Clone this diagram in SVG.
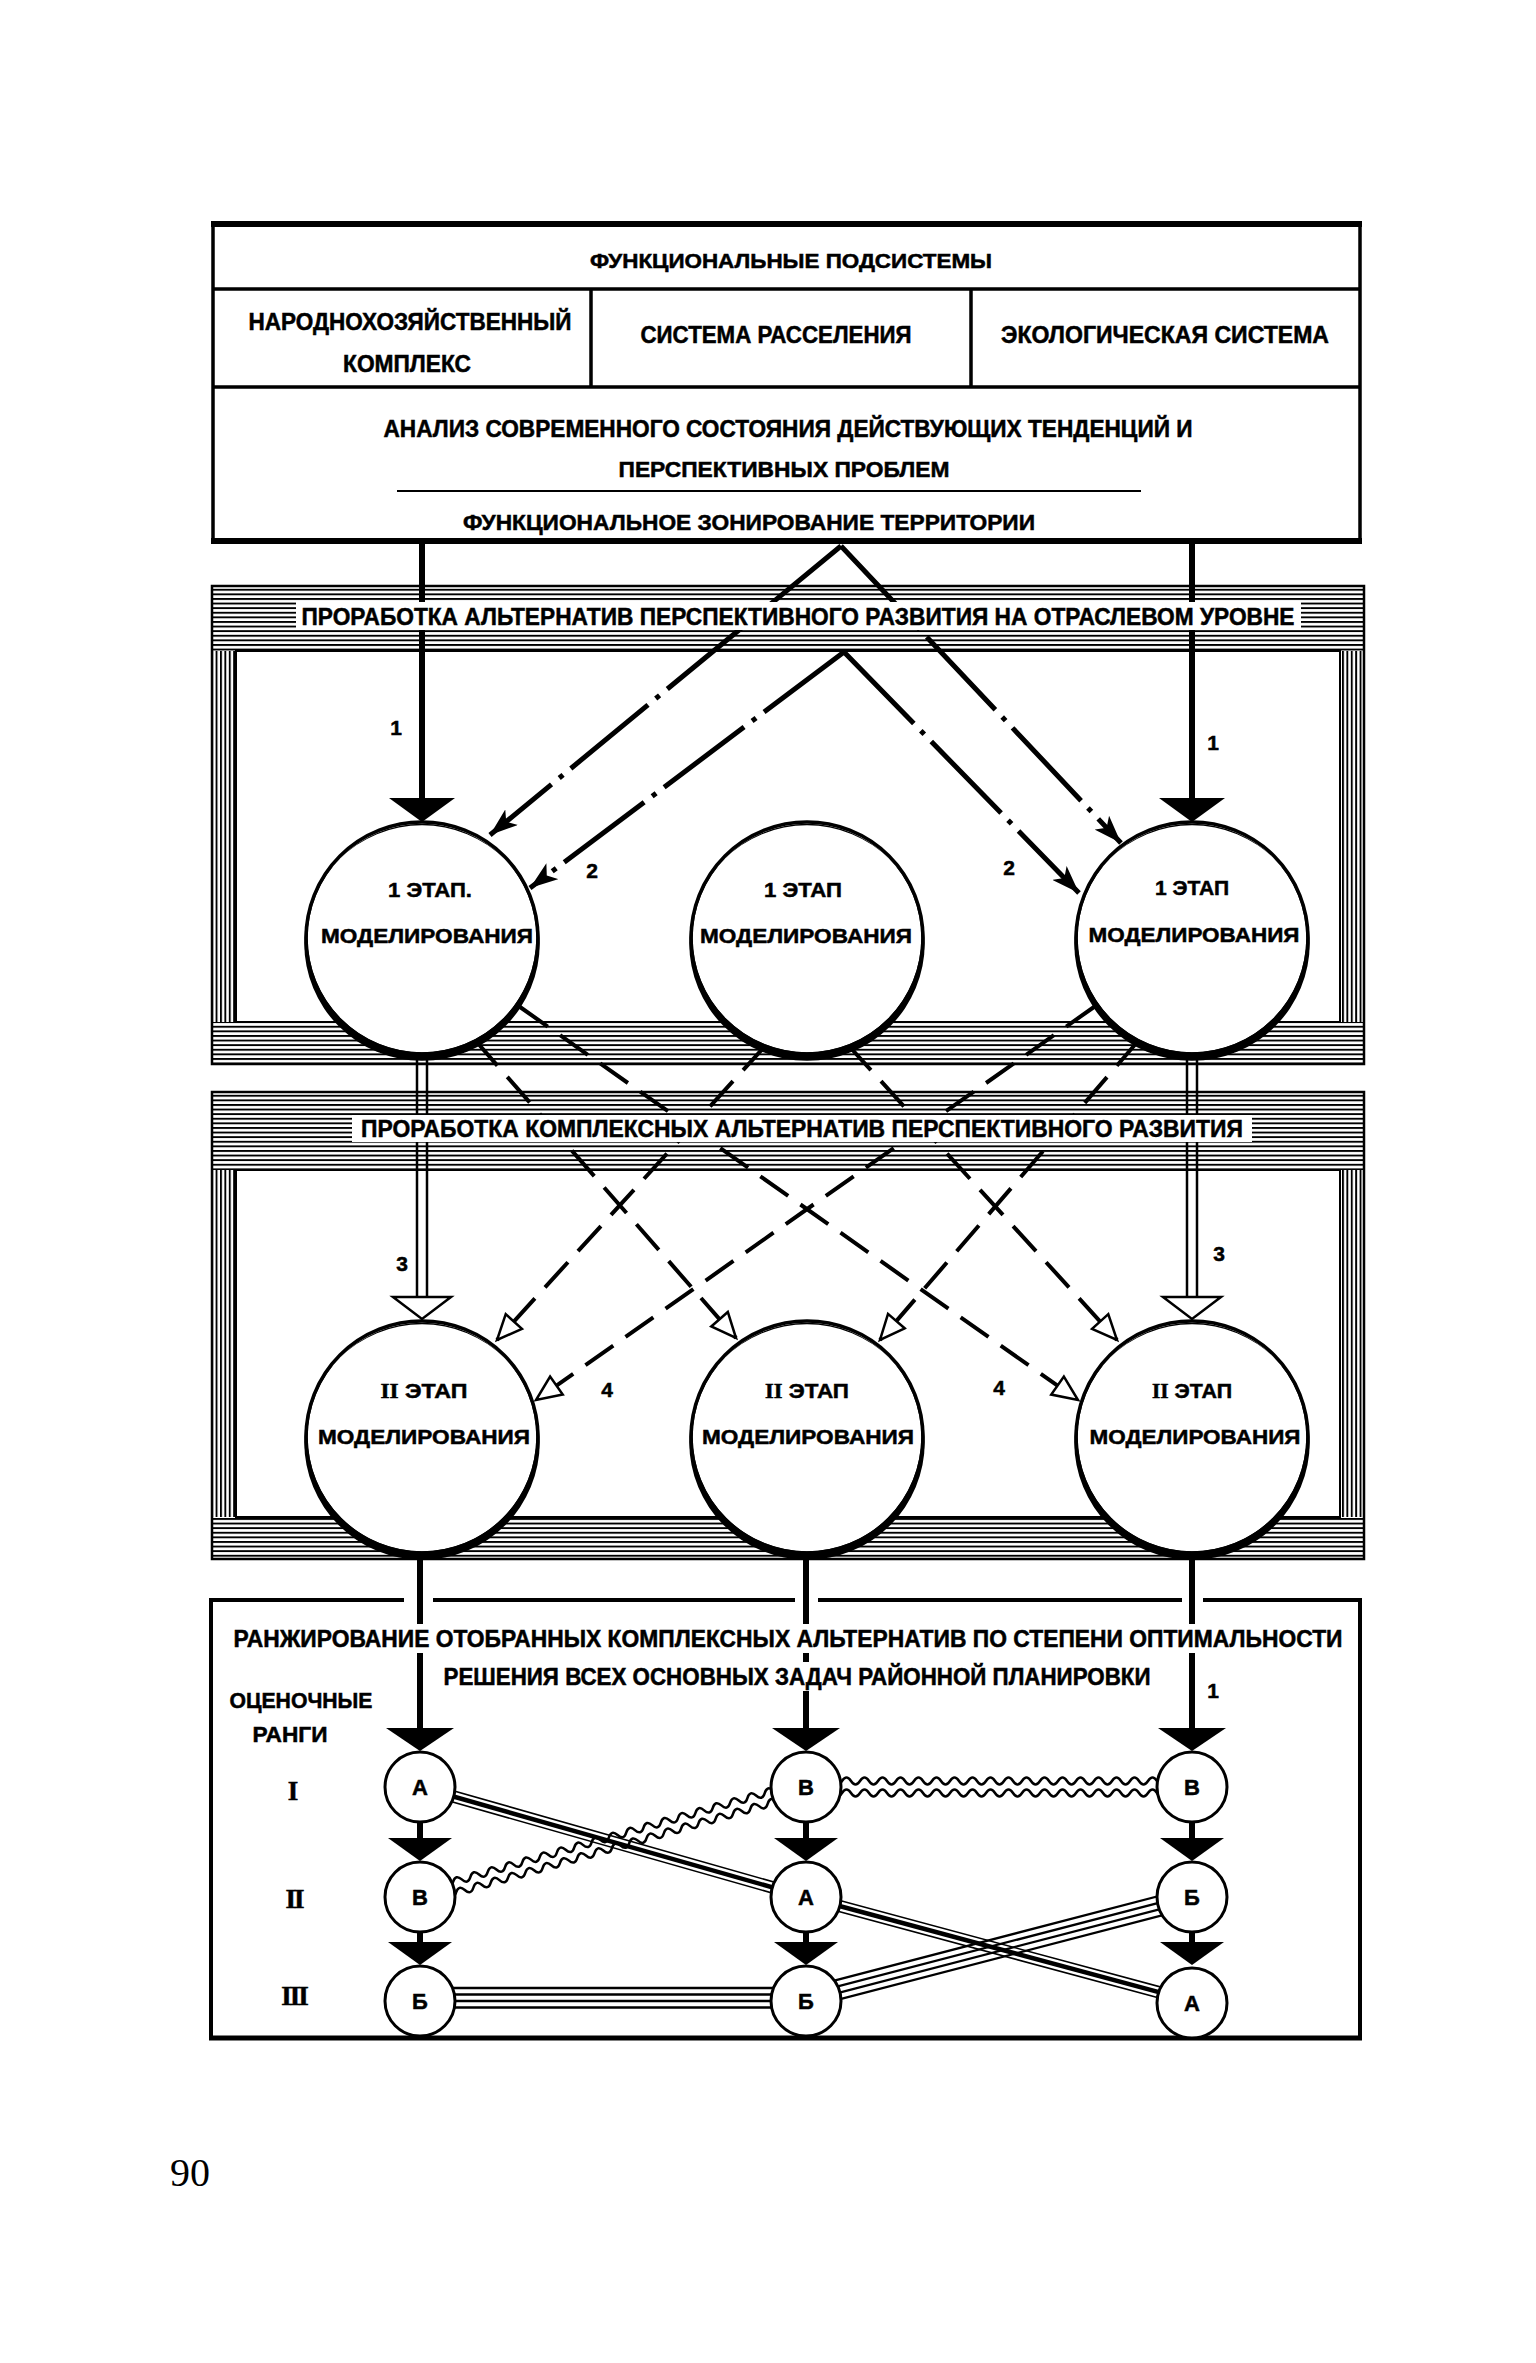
<svg xmlns="http://www.w3.org/2000/svg" width="1536" height="2363" viewBox="0 0 1536 2363">
<defs>
<style>
.t{font-family:"Liberation Sans","DejaVu Sans",Arial,sans-serif;font-weight:bold;fill:#000;stroke:#000;stroke-width:0.5;text-anchor:middle}
.rom{font-family:"Liberation Serif","DejaVu Serif",serif;font-weight:bold}
.big{fill:#fff;stroke:#000;stroke-width:3.5}
.sm{fill:#fff;stroke:#000;stroke-width:3}
.thick{stroke:#000;stroke-width:6;fill:none}
.dd{stroke:#000;stroke-width:5;fill:none;stroke-dasharray:100 10 5 10}
.dsh{stroke:#000;stroke-width:4;fill:none;stroke-dasharray:34 15}
.dbl{stroke:#000;stroke-width:2.5;fill:none}
.bg{fill:#fff}
.ln{stroke:#000;fill:none}
.wv{stroke:#000;stroke-width:2.5;fill:none}
</style>
<pattern id="hp" patternUnits="userSpaceOnUse" width="20" height="4.6"><rect width="20" height="1.9" fill="#000"/></pattern>
<pattern id="vp" patternUnits="userSpaceOnUse" width="4.4" height="20"><rect width="1.9" height="20" fill="#000"/></pattern>
<marker id="barb" markerUnits="userSpaceOnUse" viewBox="0 0 28 20" markerWidth="28" markerHeight="20" refX="28" refY="10" orient="auto"><path d="M0,0 L28,10 L0,20 L7,10 Z" fill="#000"/></marker>
<marker id="hollow" markerUnits="userSpaceOnUse" viewBox="-3 -3 32 28" markerWidth="32" markerHeight="28" refX="25" refY="11" orient="auto"><path d="M0,0 L25,11 L0,22 Z" fill="#fff" stroke="#000" stroke-width="2.5"/></marker>
<path id="cres" fill="#000" fill-rule="evenodd" d="M-117.75,5 a117.75,117.75 0 1 0 235.5,0 a117.75,117.75 0 1 0 -235.5,0 Z M-114.25,0 a114.25,114.25 0 1 0 228.5,0 a114.25,114.25 0 1 0 -228.5,0 Z"/>
<path id="wave" d="M0,0 q4.5,-7 9,0 t9,0 t9,0 t9,0 t9,0 t9,0 t9,0 t9,0 t9,0 t9,0 t9,0 t9,0 t9,0 t9,0 t9,0 t9,0 t9,0 t9,0 t9,0 t9,0 t9,0 t9,0 t9,0 t9,0 t9,0 t9,0 t9,0 t9,0 t9,0 t9,0 t9,0 t9,0 t9,0 t9,0 t9,0 t9,0 t9,0 t9,0 t9,0 t9,0 t9,0 t9,0 t9,0 t9,0 t9,0"/>
</defs>
<rect width="1536" height="2363" fill="#fff"/>

<!-- top box -->
<g id="top-box">
<rect x="213" y="224" width="1147" height="318" fill="#fff" stroke="#000" stroke-width="3.5"/>
<path class="ln" stroke-width="6" d="M211,224 H1362 M211,541 H1362"/>
<path class="ln" stroke-width="3.5" d="M213,289 H1360 M213,387 H1360 M591,289 V387 M971,289 V387"/>
<path class="ln" stroke-width="2" d="M397,491 H1141"/>
<text class="t" x="791" y="268" font-size="20" textLength="402" lengthAdjust="spacingAndGlyphs">ФУНКЦИОНАЛЬНЫЕ ПОДСИСТЕМЫ</text>
<text class="t" x="410" y="330" font-size="23" textLength="323" lengthAdjust="spacingAndGlyphs">НАРОДНОХОЗЯЙСТВЕННЫЙ</text>
<text class="t" x="407" y="372" font-size="23" textLength="128" lengthAdjust="spacingAndGlyphs">КОМПЛЕКС</text>
<text class="t" x="776" y="343" font-size="23" textLength="271" lengthAdjust="spacingAndGlyphs">СИСТЕМА РАССЕЛЕНИЯ</text>
<text class="t" x="1165" y="343" font-size="23" textLength="328" lengthAdjust="spacingAndGlyphs">ЭКОЛОГИЧЕСКАЯ СИСТЕМА</text>
<text class="t" x="788" y="437" font-size="23" textLength="809" lengthAdjust="spacingAndGlyphs">АНАЛИЗ СОВРЕМЕННОГО СОСТОЯНИЯ ДЕЙСТВУЮЩИХ ТЕНДЕНЦИЙ И</text>
<text class="t" x="784" y="477" font-size="22" textLength="331" lengthAdjust="spacingAndGlyphs">ПЕРСПЕКТИВНЫХ ПРОБЛЕМ</text>
<text class="t" x="749" y="530" font-size="22" textLength="572" lengthAdjust="spacingAndGlyphs">ФУНКЦИОНАЛЬНОЕ ЗОНИРОВАНИЕ ТЕРРИТОРИИ</text>
</g>

<!-- frame 1 -->
<g id="frame1">
<rect x="211" y="585" width="1154" height="66" fill="url(#hp)"/>
<rect x="211" y="651" width="25" height="371" fill="url(#vp)"/>
<rect x="1340" y="651" width="25" height="371" fill="url(#vp)"/>
<rect x="211" y="1022" width="1154" height="43" fill="url(#hp)"/>
<rect x="212" y="586" width="1152" height="478" fill="none" stroke="#000" stroke-width="2.5"/>
<path d="M236,1022 V651 H1340 V1022 Z" fill="none" stroke="#000" stroke-width="2"/>
</g>

<!-- frame 2 -->
<g id="frame2">
<rect x="211" y="1091" width="1154" height="79" fill="url(#hp)"/>
<rect x="211" y="1170" width="25" height="347" fill="url(#vp)"/>
<rect x="1340" y="1170" width="25" height="347" fill="url(#vp)"/>
<rect x="211" y="1517" width="1154" height="43" fill="url(#hp)"/>
<rect x="212" y="1092" width="1152" height="467" fill="none" stroke="#000" stroke-width="2.5"/>
<path d="M236,1517 V1170 H1340 V1517 Z" fill="none" stroke="#000" stroke-width="2"/>
</g>

<!-- bottom box -->
<g id="bottom-box">
<path class="ln" stroke-width="4" d="M211,1600 H404 M433,1600 H795 M818,1600 H1182 M1203,1600 H1360 M211,1598 V2038 M1360,1598 V2038"/>
<path class="ln" stroke-width="5" d="M209,2038 H1362"/>
</g>

<!-- connectors -->
<g id="connectors">
<path class="thick" d="M422,544 V800 M1192,544 V800"/>
<polygon points="389,798 455,798 422,822" fill="#000"/>
<polygon points="1159,798 1225,798 1192,822" fill="#000"/>
<path class="dd" d="M841,546 L490,835" marker-end="url(#barb)"/>
<path class="dd" d="M844,652 L530,888" marker-end="url(#barb)"/>
<path class="dd" d="M841,546 L1121,843" marker-end="url(#barb)"/>
<path class="dd" d="M844,652 L1079,893" marker-end="url(#barb)"/>
<path class="dbl" d="M417,1054 V1298 M427,1054 V1298 M1187,1054 V1298 M1197,1054 V1298"/>
<polygon points="393,1297 451,1297 422,1319" fill="#fff" stroke="#000" stroke-width="2.5"/>
<polygon points="1163,1297 1221,1297 1192,1319" fill="#fff" stroke="#000" stroke-width="2.5"/>
<path class="dsh" d="M475,1040 L736,1338" marker-end="url(#hollow)"/>
<path class="dsh" d="M520,1007 L1078,1400" marker-end="url(#hollow)"/>
<path class="dsh" d="M766,1045 L497,1340" marker-end="url(#hollow)"/>
<path class="dsh" d="M848,1045 L1117,1340" marker-end="url(#hollow)"/>
<path class="dsh" d="M1094,1007 L536,1400" marker-end="url(#hollow)"/>
<path class="dsh" d="M1139,1040 L880,1340" marker-end="url(#hollow)"/>
<path class="thick" d="M420,1553 V1730 M806,1553 V1730 M1192,1553 V1730"/>
<polygon points="386,1728 454,1728 420,1751" fill="#000"/>
<polygon points="772,1728 840,1728 806,1751" fill="#000"/>
<polygon points="1158,1728 1226,1728 1192,1751" fill="#000"/>
<path class="thick" d="M420,1820 V1840 M806,1820 V1840 M1192,1820 V1840 M420,1930 V1944 M806,1930 V1944 M1192,1930 V1944"/>
<polygon points="388,1838 452,1838 420,1861" fill="#000"/>
<polygon points="774,1838 838,1838 806,1861" fill="#000"/>
<polygon points="1160,1838 1224,1838 1192,1861" fill="#000"/>
<polygon points="388,1942 452,1942 420,1965" fill="#000"/>
<polygon points="774,1942 838,1942 806,1965" fill="#000"/>
<polygon points="1160,1942 1224,1942 1192,1965" fill="#000"/>
<g transform="translate(420,1787) rotate(15.9)">
<path class="ln" stroke-width="1.6" d="M0,-5.5 H401 M0,5.5 H401"/>
<path class="ln" stroke-width="4.5" d="M0,0 H401"/>
</g>
<g transform="translate(806,1897) rotate(15.1)">
<path class="ln" stroke-width="1.6" d="M0,-5.5 H400 M0,5.5 H400"/>
<path class="ln" stroke-width="4.5" d="M0,0 H400"/>
</g>
<use href="#wave" class="wv" transform="translate(420,1897) rotate(-15.9) translate(0,-5.5)"/>
<use href="#wave" class="wv" transform="translate(420,1897) rotate(-15.9) translate(0,5.5)"/>
<use href="#wave" class="wv" transform="translate(806,1781)"/>
<use href="#wave" class="wv" transform="translate(806,1793)"/>
<path class="ln" stroke-width="2.3" d="M420,1988 H806 M420,1994.5 H806 M420,2001 H806 M420,2007.5 H806"/>
<g transform="translate(806,1998) rotate(-14.6)">
<path class="ln" stroke-width="2.3" d="M0,-9.75 H398 M0,-3.25 H398 M0,3.25 H398 M0,9.75 H398"/>
</g>
</g>

<!-- band labels -->
<g id="band1-label">
<rect class="bg" x="296" y="602" width="1005" height="28"/>
<text class="t" x="798" y="625" font-size="24" textLength="993" lengthAdjust="spacingAndGlyphs">ПРОРАБОТКА АЛЬТЕРНАТИВ ПЕРСПЕКТИВНОГО РАЗВИТИЯ НА ОТРАСЛЕВОМ УРОВНЕ</text>
</g>
<g id="band2-label">
<rect class="bg" x="352" y="1115" width="900" height="27"/>
<text class="t" x="802" y="1137" font-size="24" textLength="882" lengthAdjust="spacingAndGlyphs">ПРОРАБОТКА КОМПЛЕКСНЫХ АЛЬТЕРНАТИВ ПЕРСПЕКТИВНОГО РАЗВИТИЯ</text>
</g>
<g id="ranking-label">
<rect class="bg" x="230" y="1624" width="1118" height="29"/>
<rect class="bg" x="438" y="1662" width="720" height="29"/>
<text class="t" x="788" y="1647" font-size="23" textLength="1109" lengthAdjust="spacingAndGlyphs">РАНЖИРОВАНИЕ ОТОБРАННЫХ КОМПЛЕКСНЫХ АЛЬТЕРНАТИВ ПО СТЕПЕНИ ОПТИМАЛЬНОСТИ</text>
<text class="t" x="797" y="1685" font-size="23" textLength="707" lengthAdjust="spacingAndGlyphs">РЕШЕНИЯ ВСЕХ ОСНОВНЫХ ЗАДАЧ РАЙОННОЙ ПЛАНИРОВКИ</text>
<text class="t" x="301" y="1708" font-size="22" textLength="143" lengthAdjust="spacingAndGlyphs">ОЦЕНОЧНЫЕ</text>
<text class="t" x="290" y="1742" font-size="22" textLength="75" lengthAdjust="spacingAndGlyphs">РАНГИ</text>
<text class="t rom" x="293" y="1800" font-size="27">I</text>
<text class="t rom" x="294" y="1908" font-size="27" letter-spacing="-2">II</text>
<text class="t rom" x="294" y="2005" font-size="27" letter-spacing="-2">III</text>
</g>

<!-- connector labels -->
<g id="labels" font-size="21">
<text class="t" x="396" y="735">1</text>
<text class="t" x="1213" y="750">1</text>
<text class="t" x="592" y="878">2</text>
<text class="t" x="1009" y="875">2</text>
<text class="t" x="402" y="1271">3</text>
<text class="t" x="1219" y="1261">3</text>
<text class="t" x="607" y="1397">4</text>
<text class="t" x="999" y="1395">4</text>
<text class="t" x="1213" y="1698">1</text>
</g>

<!-- stage I nodes -->
<g id="stage1-left">
<circle class="big" cx="422" cy="938" r="116"/>
<use href="#cres" x="422" y="938"/>
<text class="t" x="430" y="897" font-size="21" textLength="84" lengthAdjust="spacingAndGlyphs">1 ЭТАП.</text>
<text class="t" x="427" y="943" font-size="21" textLength="212" lengthAdjust="spacingAndGlyphs">МОДЕЛИРОВАНИЯ</text>
</g>
<g id="stage1-middle">
<circle class="big" cx="807" cy="938" r="116"/>
<use href="#cres" x="807" y="938"/>
<text class="t" x="803" y="897" font-size="21" textLength="78" lengthAdjust="spacingAndGlyphs">1 ЭТАП</text>
<text class="t" x="806" y="943" font-size="21" textLength="212" lengthAdjust="spacingAndGlyphs">МОДЕЛИРОВАНИЯ</text>
</g>
<g id="stage1-right">
<circle class="big" cx="1192" cy="938" r="116"/>
<use href="#cres" x="1192" y="938"/>
<text class="t" x="1192" y="895" font-size="21" textLength="74" lengthAdjust="spacingAndGlyphs">1 ЭТАП</text>
<text class="t" x="1194" y="942" font-size="21" textLength="211" lengthAdjust="spacingAndGlyphs">МОДЕЛИРОВАНИЯ</text>
</g>

<!-- stage II nodes -->
<g id="stage2-left">
<circle class="big" cx="422" cy="1437" r="116"/>
<use href="#cres" x="422" y="1437"/>
<text class="t" x="424" y="1398" font-size="21" textLength="87" lengthAdjust="spacingAndGlyphs"><tspan class="rom">II</tspan> ЭТАП</text>
<text class="t" x="424" y="1444" font-size="21" textLength="212" lengthAdjust="spacingAndGlyphs">МОДЕЛИРОВАНИЯ</text>
</g>
<g id="stage2-middle">
<circle class="big" cx="807" cy="1437" r="116"/>
<use href="#cres" x="807" y="1437"/>
<text class="t" x="807" y="1398" font-size="21" textLength="84" lengthAdjust="spacingAndGlyphs"><tspan class="rom">II</tspan> ЭТАП</text>
<text class="t" x="808" y="1444" font-size="21" textLength="212" lengthAdjust="spacingAndGlyphs">МОДЕЛИРОВАНИЯ</text>
</g>
<g id="stage2-right">
<circle class="big" cx="1192" cy="1437" r="116"/>
<use href="#cres" x="1192" y="1437"/>
<text class="t" x="1192" y="1398" font-size="21" textLength="80" lengthAdjust="spacingAndGlyphs"><tspan class="rom">II</tspan> ЭТАП</text>
<text class="t" x="1195" y="1444" font-size="21" textLength="211" lengthAdjust="spacingAndGlyphs">МОДЕЛИРОВАНИЯ</text>
</g>

<!-- ranking nodes -->
<g id="r1-left"><circle class="sm" cx="420" cy="1787" r="35"/><text class="t" x="420" y="1795" font-size="22">А</text></g>
<g id="r1-middle"><circle class="sm" cx="806" cy="1787" r="35"/><text class="t" x="806" y="1795" font-size="22">В</text></g>
<g id="r1-right"><circle class="sm" cx="1192" cy="1787" r="35"/><text class="t" x="1192" y="1795" font-size="22">В</text></g>
<g id="r2-left"><circle class="sm" cx="420" cy="1897" r="35"/><text class="t" x="420" y="1905" font-size="22">В</text></g>
<g id="r2-middle"><circle class="sm" cx="806" cy="1897" r="35"/><text class="t" x="806" y="1905" font-size="22">А</text></g>
<g id="r2-right"><circle class="sm" cx="1192" cy="1897" r="35"/><text class="t" x="1192" y="1905" font-size="22">Б</text></g>
<g id="r3-left"><circle class="sm" cx="420" cy="2001" r="35"/><text class="t" x="420" y="2009" font-size="22">Б</text></g>
<g id="r3-middle"><circle class="sm" cx="806" cy="2001" r="35"/><text class="t" x="806" y="2009" font-size="22">Б</text></g>
<g id="r3-right"><circle class="sm" cx="1192" cy="2003" r="35"/><text class="t" x="1192" y="2011" font-size="22">А</text></g>

<text x="170" y="2186" font-family="'Liberation Serif','DejaVu Serif',serif" font-size="40">90</text>
</svg>
